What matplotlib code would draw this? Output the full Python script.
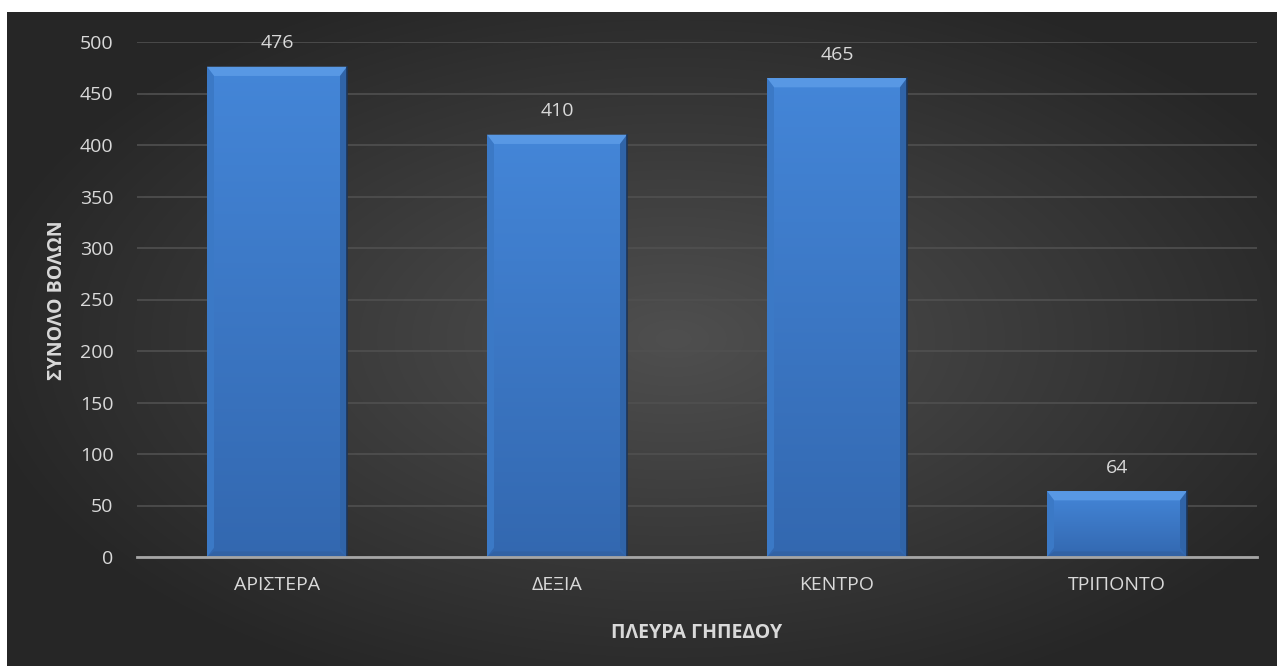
import numpy as np
import matplotlib.pyplot as plt
from matplotlib.patches import Polygon

# shot counts per court side
categories = ["ΑΡΙΣΤΕΡΑ", "ΔΕΞΙΑ", "ΚΕΝΤΡΟ", "ΤΡΙΠΟΝΤΟ"]
shots = [476, 410, 465, 64]

y_ticks = [0, 50, 100, 150, 200, 250, 300, 350, 400, 450, 500]
x_title = "ΠΛΕΥΡΑ ΓΗΠΕΔΟΥ"
y_title = "ΣΥΝΟΛΟ ΒΟΛΩΝ"

plt.rcParams["font.family"] = ["Open Sans", "DejaVu Sans"]

W, H = 1277, 666
fig = plt.figure(figsize=(W / 100, H / 100), dpi=100)
fig.patch.set_facecolor("white")

# dark chart area with a soft radial highlight
bg = fig.add_axes([7 / W, 0, 1 - 7 / W, 1 - 12 / H])
bg.set_axis_off()
gx, gy = np.meshgrid(np.linspace(-1, 1, 400), np.linspace(-1, 1, 200))
r = np.sqrt(((gx - 0.05) / 1.05) ** 2 + (gy / 1.1) ** 2)
shade = np.clip(0.31 - 0.15 * r, 0.15, 0.31)
bg.imshow(np.dstack([shade] * 3), aspect="auto", extent=[0, 1, 0, 1], interpolation="bicubic")
bg.set_xlim(0, 1)
bg.set_ylim(0, 1)

ax = fig.add_axes([137 / W, 109 / H, 1120 / W, 515 / H])
ax.set_facecolor("none")
x = np.arange(len(categories))
width = 0.5
bars = ax.bar(x, shots, width=width, color="#3a78c8", edgecolor="none", zorder=3)

# vertical gradient and bevel on each bar
grad = np.linspace(0, 1, 256).reshape(-1, 1)
top_col = np.array([0x44, 0x86, 0xd8]) / 255
bot_col = np.array([0x33, 0x68, 0xb0]) / 255
grad_img = (bot_col * (1 - grad) + top_col * grad)[:, None, :].repeat(2, axis=1)
bev_x = 0.025
bev_y = 9
for xi, v, b in zip(x, shots, bars):
    x0, x1 = xi - width / 2, xi + width / 2
    im = ax.imshow(grad_img, origin="lower", aspect="auto", extent=[x0, x1, 0, v], zorder=3.5)
    im.set_clip_path(b)
    by = min(bev_y, v * 0.3)
    ax.add_patch(Polygon([[x0, v], [x1, v], [x1 - bev_x, v - by], [x0 + bev_x, v - by]],
                         closed=True, facecolor="#5898e4", edgecolor="none", zorder=4))
    ax.add_patch(Polygon([[x0, v], [x0 + bev_x, v - by], [x0 + bev_x, by], [x0, 0]],
                         closed=True, facecolor="#3b79c6", edgecolor="none", zorder=4))
    ax.add_patch(Polygon([[x1, v], [x1 - bev_x, v - by], [x1 - bev_x, by], [x1, 0]],
                         closed=True, facecolor="#3064a8", edgecolor="none", zorder=4))
    ax.add_patch(Polygon([[x0, 0], [x1, 0], [x1 - bev_x, by * 0.6], [x0 + bev_x, by * 0.6]],
                         closed=True, facecolor="#3262a4", edgecolor="none", zorder=4))
    ax.plot([x1, x1], [0, v], color="#1c3558", lw=1.2, zorder=4.5)
    ax.text(xi, v + 14, str(v), ha="center", va="bottom", fontsize=14, color="#d9d9d9", zorder=5)

ax.set_xlim(-0.5, len(categories) - 0.5)
ax.set_ylim(0, 500)
ax.set_yticks(y_ticks)
ax.set_xticks(x)
ax.set_xticklabels(categories)
ax.yaxis.grid(True, color="#505050", lw=1.2, zorder=0)
ax.set_axisbelow(True)
ax.tick_params(axis="both", length=0, colors="#d9d9d9", labelsize=14)
ax.tick_params(axis="x", pad=14)
ax.tick_params(axis="y", pad=17)
for s in ["top", "right", "left"]:
    ax.spines[s].set_visible(False)
ax.spines["bottom"].set_color("#a6a6a6")
ax.spines["bottom"].set_linewidth(2)
ax.spines["bottom"].set_zorder(6)

fig.text(697 / W, 1 - 633 / H, x_title, ha="center", va="center",
         fontsize=14, fontweight="bold", color="#d9d9d9")
fig.text(57 / W, 1 - 300 / H, y_title, ha="center", va="center", rotation=90,
         fontsize=14, fontweight="bold", color="#d9d9d9")

fig.savefig("out.png", dpi=100, facecolor=fig.get_facecolor())
